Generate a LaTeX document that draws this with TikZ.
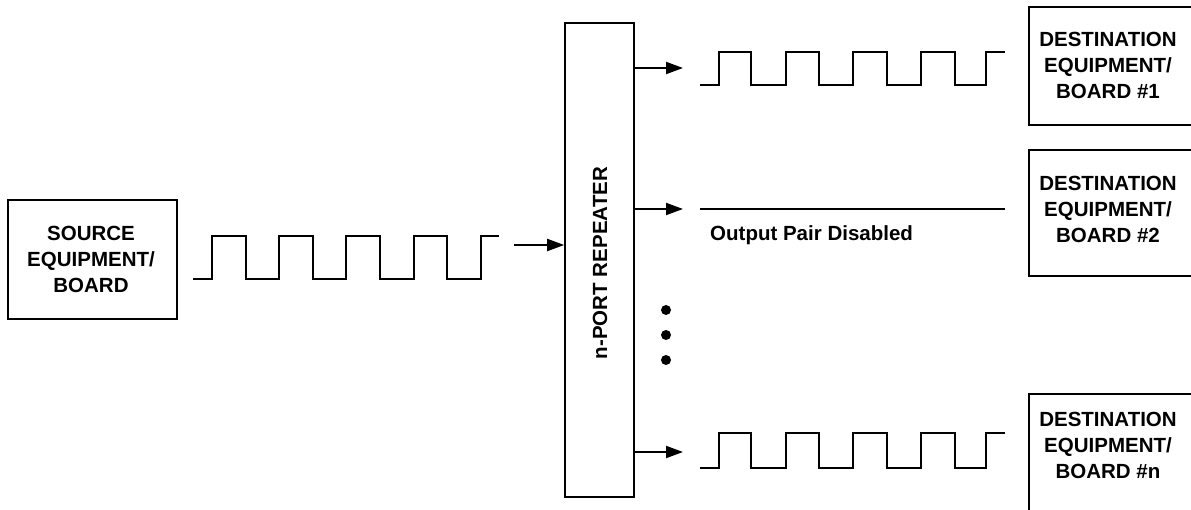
\documentclass[tikz,border=0pt]{standalone}
\usepackage{fontspec}
\setmainfont{Liberation Sans}
\usetikzlibrary{arrows.meta}
\begin{document}
\begin{tikzpicture}[x=1pt,y=-1pt,
  box/.style={draw,line width=1.6pt,inner sep=0pt,minimum width=#1},
  openbox/.style={inner sep=0pt,minimum width=#1},
  edge/.style={line width=1.6pt},
  lbl/.style={font=\fontsize{20.5}{26}\selectfont\bfseries,align=center,inner sep=0pt},
  wave/.style={line width=2pt},
  arr/.style={line width=2pt,-{Triangle[length=17pt,width=12pt]}}]
\useasboundingbox (0,0) rectangle (1191,510);
% boxes
\node[box=169pt,minimum height=119pt] (src) at (92.5,259.5) {};
\node[lbl] (srctxt) at (91,259) {SOURCE\\EQUIPMENT/\\BOARD};
\node[box=69pt,minimum height=474pt] (rep) at (599.5,260) {};
\node[lbl,rotate=90] (reptxt) at (600,263) {n-PORT REPEATER};
\node[openbox=200pt,minimum height=118pt] (d1) at (1129,66) {};
\draw[edge] (d1.north east) -- (d1.north west) -- (d1.south west) -- (d1.south east);
\node[lbl] (d1txt) at (1108,65.5) {DESTINATION\\EQUIPMENT/\\BOARD \#1};
\node[openbox=200pt,minimum height=126pt] (d2) at (1129,213) {};
\draw[edge] (d2.north east) -- (d2.north west) -- (d2.south west) -- (d2.south east);
\node[lbl] (d2txt) at (1108,209) {DESTINATION\\EQUIPMENT/\\BOARD \#2};
\node[openbox=200pt,minimum height=140pt] (dn) at (1129,464) {};
\draw[edge] (dn.north east) -- (dn.north west) -- (dn.south west);
\node[lbl] (dntxt) at (1108,445) {DESTINATION\\EQUIPMENT/\\BOARD \#n};
% arrows
\coordinate (inStart) at (514,245);
\coordinate (o1) at (683,68);
\coordinate (o2) at (683,209);
\coordinate (on) at (683,452);
\draw[arr] (inStart) -- (inStart -| rep.west);
\draw[arr] (o1 -| rep.east) -- (o1);
\draw[arr] (o2 -| rep.east) -- (o2);
\draw[arr] (on -| rep.east) -- (on);
% waveforms
\draw[wave] (193,279) -- (212,279) -- (212,236) -- (246,236) -- (246,279) -- (279,279) -- (279,236) -- (313,236) -- (313,279) -- (346,279) -- (346,236) -- (380,236) -- (380,279) -- (414,279) -- (414,236) -- (447,236) -- (447,279) -- (481,279) -- (481,236) -- (499,236);
\draw[wave] (700,85) -- (719,85) -- (719,52) -- (751,52) -- (751,85) -- (786,85) -- (786,52) -- (819,52) -- (819,85) -- (853,85) -- (853,52) -- (887,52) -- (887,85) -- (921,85) -- (921,52) -- (955,52) -- (955,85) -- (986,85) -- (986,52) -- (1005,52);
\draw[wave] (700,468) -- (719,468) -- (719,433) -- (751,433) -- (751,468) -- (786,468) -- (786,433) -- (819,433) -- (819,468) -- (853,468) -- (853,433) -- (887,433) -- (887,468) -- (921,468) -- (921,433) -- (955,433) -- (955,468) -- (986,468) -- (986,433) -- (1005,433);
\draw[wave] (700,209) -- (1005,209);
\node[lbl,anchor=base west] (dis) at (710,241) {Output Pair Disabled};
% dots
\fill (666,310) circle (5pt);
\fill (666,335) circle (5pt);
\fill (666,360) circle (5pt);
\end{tikzpicture}
\end{document}
